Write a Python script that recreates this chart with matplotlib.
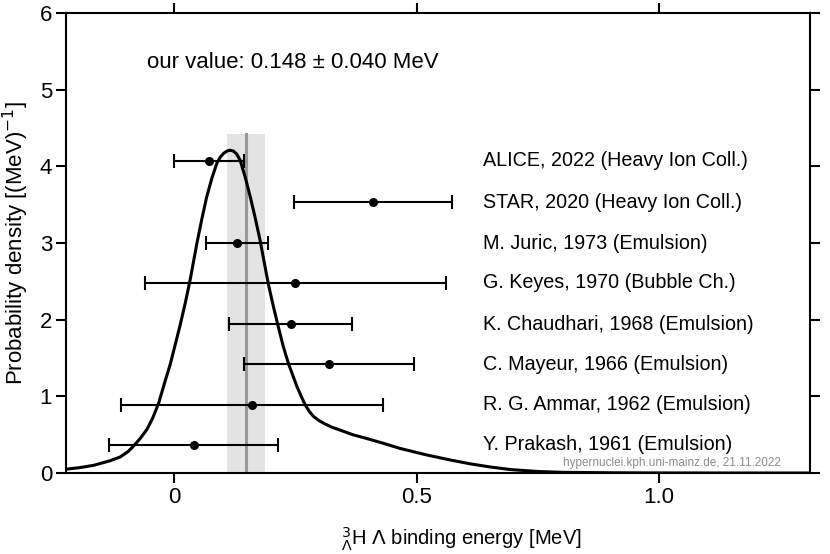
import numpy as np
import matplotlib.pyplot as plt

plt.rcParams['font.family'] = ['Liberation Sans', 'DejaVu Sans']

# measurements (value, total error) and the row height they are drawn at
labels = ["ALICE, 2022 (Heavy Ion Coll.)", "STAR, 2020 (Heavy Ion Coll.)",
          "M. Juric, 1973 (Emulsion)", "G. Keyes, 1970 (Bubble Ch.)",
          "K. Chaudhari, 1968 (Emulsion)", "C. Mayeur, 1966 (Emulsion)",
          "R. G. Ammar, 1962 (Emulsion)", "Y. Prakash, 1961 (Emulsion)"]
values = [0.072, 0.41, 0.13, 0.25, 0.24, 0.32, 0.16, 0.04]
errors = [0.073, 0.163, 0.064, 0.31, 0.126, 0.175, 0.27, 0.175]
rows = [4.07, 3.53, 3.00, 2.48, 1.94, 1.42, 0.89, 0.37]

# combined probability density
curve_x = [-0.225, -0.195, -0.166, -0.132, -0.111, -0.095, -0.084, -0.070, -0.056,
           -0.044, -0.032, -0.020, -0.008, 0.002, 0.012, 0.023, 0.033, 0.047, 0.057,
           0.067, 0.078, 0.088, 0.095, 0.102, 0.109, 0.115, 0.122, 0.129, 0.136,
           0.146, 0.157, 0.167, 0.177, 0.194, 0.205, 0.215, 0.225, 0.236, 0.253,
           0.262, 0.270, 0.279, 0.287, 0.297, 0.308, 0.324, 0.342, 0.368, 0.397,
           0.430, 0.466, 0.521, 0.569, 0.610, 0.650, 0.693, 0.750, 0.800, 0.900,
           1.000, 1.150, 1.311]
curve_y = [0.048, 0.07, 0.10, 0.16, 0.21, 0.28, 0.35, 0.45, 0.57,
           0.72, 0.91, 1.17, 1.42, 1.67, 1.92, 2.22, 2.52, 3.00, 3.31,
           3.60, 3.85, 4.04, 4.12, 4.17, 4.20, 4.21, 4.20, 4.16, 4.08,
           3.87, 3.60, 3.33, 3.04, 2.47, 2.16, 1.90, 1.65, 1.42, 1.13,
           1.00, 0.89, 0.80, 0.74, 0.69, 0.65, 0.60, 0.56, 0.50, 0.45,
           0.39, 0.32, 0.235, 0.17, 0.12, 0.08, 0.045, 0.02, 0.009, 0.003,
           0.001, 0.0, 0.0]

our_value = 0.148
our_error = 0.040
band_top = 4.42

fig = plt.figure(figsize=(8.3, 5.54), dpi=100)
ax = fig.add_axes([0.0795, 0.1462, 0.8965, 0.8303])

ax.fill_between([our_value - our_error, our_value + our_error], 0, band_top,
                color="#e3e3e3", lw=0, zorder=1)
ax.plot([our_value, our_value], [0, band_top], color="#999999", lw=2.2, zorder=2)

ax.plot(curve_x, curve_y, color="black", lw=2.2, zorder=4)

ax.errorbar(values, rows, xerr=errors, fmt="o", color="black", ms=5.5,
            elinewidth=1.5, capsize=5, capthick=1.5, zorder=5)

for lab, r in zip(labels, rows):
    ax.text(0.637, r, lab, fontsize=14.2, va="center", ha="left")

ax.text(-0.055, 5.36, "our value: 0.148 \u00b1 0.040 MeV", fontsize=16,
        va="center", ha="left")
ax.text(1.25, 0.13, "hypernuclei.kph.uni-mainz.de, 21.11.2022", fontsize=8.5,
        color="#8c8c8c", ha="right", va="center")

ax.set_xlim(-0.223, 1.311)
ax.set_ylim(0, 6)
ax.set_xticks([0, 0.5, 1.0])
ax.set_xticklabels(["0", "0.5", "1.0"])
ax.set_yticks(range(7))
ax.tick_params(direction="out", length=7, width=1.5, labelsize=16,
               top=True, right=True, pad=3)
for s in ax.spines.values():
    s.set_linewidth(1.5)

ax.set_xlabel(r"$^{3}_{\Lambda}$H $\Lambda$ binding energy [MeV]", fontsize=14.5)
ax.xaxis.set_label_coords(0.532, -0.115)
ax.set_ylabel("Probability density [(MeV)$^{-1}$]", fontsize=16, labelpad=6)

fig.savefig("out.png", dpi=100)
